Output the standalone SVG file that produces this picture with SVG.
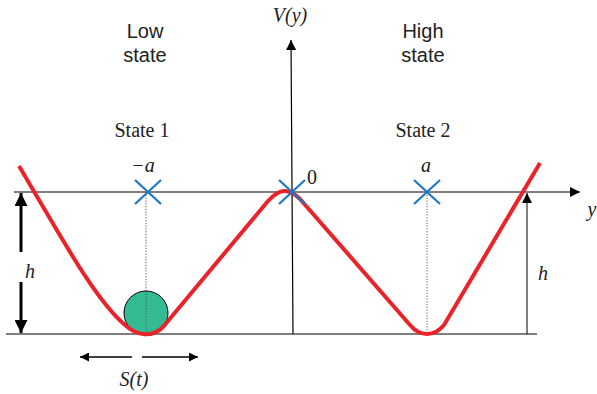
<svg xmlns="http://www.w3.org/2000/svg" width="597" height="394" viewBox="0 0 597 394">
<defs>
<style>
.ax{stroke:#000;stroke-width:1.2;fill:none}
.dot{stroke:#555;stroke-width:1;stroke-dasharray:1.2 1.6;fill:none}
.cross{stroke:#1f77c4;stroke-width:2.2;fill:none}
.sans{font-family:'Liberation Sans',Arial,sans-serif;font-size:20px;fill:#222;text-anchor:middle}
.serif{font-family:'Liberation Serif','Times New Roman',Times,serif;font-size:20px;fill:#222;text-anchor:middle}
.it{font-family:'Liberation Serif','Times New Roman',Times,serif;font-size:20px;font-style:italic;fill:#222;text-anchor:middle}
</style>
<marker id="ah" viewBox="0 0 10 10" refX="10" refY="5" markerWidth="10" markerHeight="10" markerUnits="userSpaceOnUse" orient="auto"><path d="M0,0 L10,5 L0,10 z" fill="#000"/></marker>
<marker id="ahb" viewBox="0 0 10 10" refX="10" refY="5" markerWidth="15" markerHeight="13" markerUnits="userSpaceOnUse" orient="auto"><path d="M0,0 L10,5 L0,10 z" fill="#000"/></marker>
<marker id="ahs" viewBox="0 0 10 10" refX="10" refY="5" markerWidth="12" markerHeight="9" markerUnits="userSpaceOnUse" orient="auto"><path d="M0,0 L10,5 L0,10 z" fill="#000"/></marker>
</defs>
<g id="connectors">
<line class="ax" x1="14" y1="192" x2="580" y2="192" marker-end="url(#ah)"/>
<line class="ax" x1="6" y1="334" x2="537" y2="334"/>
<line class="ax" x1="293" y1="334" x2="291" y2="40" stroke="#444" marker-end="url(#ah)"/>
<line class="dot" x1="146" y1="192" x2="146" y2="334"/>
<line class="dot" x1="427" y1="192" x2="427" y2="334"/>
<line x1="21" y1="252" x2="21" y2="193" stroke="#000" stroke-width="3" marker-end="url(#ahb)"/>
<line x1="21" y1="282" x2="21" y2="333" stroke="#000" stroke-width="3" marker-end="url(#ahb)"/>
<line x1="527" y1="334" x2="527" y2="193" stroke="#000" stroke-width="1" marker-end="url(#ah)"/>
<line x1="132" y1="357" x2="80" y2="357" stroke="#000" stroke-width="1.5" marker-end="url(#ahs)"/>
<line x1="142" y1="357" x2="198" y2="357" stroke="#000" stroke-width="1.5" marker-end="url(#ahs)"/>
</g>
<g id="ball"><circle cx="146" cy="313" r="22" fill="#35bb93" stroke="#000" stroke-width="1"/><line class="dot" x1="146" y1="291" x2="146" y2="334"/></g>
<g id="curve"><path d="M19,166 C60,235 95,300 125,325 C137,336 152,338 163,327 L268,201 C279,189 288,187 300,199 L410,325 C420,337 434,337 444,325 L540,163" fill="none" stroke="#e8232a" stroke-width="4" stroke-linejoin="round"/></g>
<g id="crosses">
<path class="cross" d="M135,180 L161,204 M161,180 L135,204"/>
<path class="cross" d="M279,180 L305,204 M305,180 L279,204"/>
<path class="cross" d="M414,180 L440,204 M440,180 L414,204"/>
</g>
<g id="labels">
<text class="sans" x="145" y="38">Low</text>
<text class="sans" x="145" y="62">state</text>
<text class="sans" x="423" y="38">High</text>
<text class="sans" x="423" y="62">state</text>
<text class="it" x="290" y="22" font-size="19">V(y)</text>
<text class="serif" x="142" y="137">State 1</text>
<text class="serif" x="423" y="137">State 2</text>
<text class="it" x="143" y="172">−a</text>
<text class="serif" x="312" y="184">0</text>
<text class="it" x="426" y="172">a</text>
<text class="it" x="592" y="216">y</text>
<text class="it" x="30" y="278">h</text>
<text class="it" x="543" y="280">h</text>
<text class="it" x="134" y="386">S(t)</text>
</g>
</svg>
